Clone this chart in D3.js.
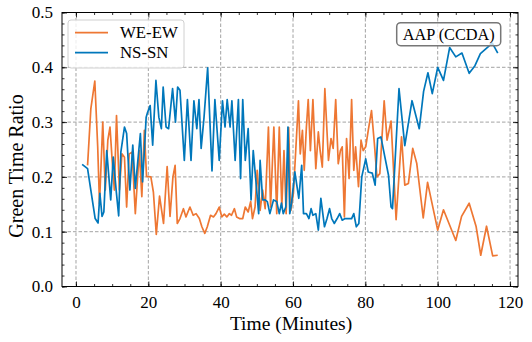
<!DOCTYPE html>
<html><head><meta charset="utf-8">
<script src="https://cdn.jsdelivr.net/npm/d3@7"></script>
<style>body{margin:0;background:#fff}svg{display:block}</style>
</head><body>
<svg id="c" width="532" height="342"></svg>
<script>
// ---- data ----
const weTime = [3.2,4.1,5.2,6.0,6.5,7.4,8.1,8.8,9.4,10.0,10.6,11.2,12.0,12.7,13.4,14.0,14.7,15.5,16.4,17.5,18.2,18.9,19.5,20.7,21.4,22.2,23.1,24.2,25.2,26.0,26.8,27.4,28.0,28.75,29.7,30.4,31.5,32.4,33.2,34.1,34.8,35.6,36.3,37.2,38.0,38.7,39.6,40.3,41.0,41.7,42.4,43.0,43.8,44.4,45.2,46.1,46.8,47.6,48.3,48.8,49.5,50.1,50.9,51.6,52.3,53.2,53.8,54.7,55.5,56.2,56.9,57.5,58.1,58.8,59.4,60.1,60.7,61.5,62.0,62.6,63.1,63.7,64.2,64.8,65.5,66.3,67.0,67.5,68.1,68.8,69.8,70.5,71.1,71.8,72.5,73.1,73.6,74.2,74.8,75.5,76.2,76.8,77.3,78.1,78.8,79.4,80.1,80.8,81.7,82.5,83.2,84.0,85.2,86.0,87.1,88.5,90.0,90.9,91.9,93.1,94.2,96.0,97.2,100.0,101.6,105.0,106.6,108.7,110.6,111.9,113.5,115.2,116.6];
const weValue = [0.221,0.324,0.375,0.255,0.151,0.300,0.176,0.267,0.291,0.230,0.176,0.312,0.176,0.242,0.236,0.145,0.242,0.245,0.133,0.248,0.164,0.285,0.201,0.200,0.172,0.095,0.165,0.115,0.219,0.128,0.200,0.221,0.115,0.124,0.142,0.127,0.145,0.130,0.133,0.124,0.109,0.097,0.109,0.130,0.127,0.133,0.145,0.127,0.132,0.127,0.133,0.130,0.142,0.127,0.124,0.124,0.145,0.136,0.155,0.124,0.145,0.212,0.139,0.176,0.142,0.291,0.145,0.291,0.133,0.291,0.145,0.248,0.133,0.290,0.139,0.170,0.242,0.339,0.242,0.285,0.212,0.291,0.341,0.248,0.341,0.215,0.282,0.248,0.218,0.361,0.230,0.270,0.252,0.341,0.224,0.248,0.255,0.127,0.270,0.197,0.341,0.212,0.255,0.182,0.267,0.248,0.255,0.285,0.321,0.260,0.200,0.206,0.339,0.267,0.302,0.122,0.273,0.185,0.188,0.252,0.225,0.125,0.190,0.103,0.140,0.084,0.128,0.152,0.110,0.057,0.110,0.056,0.057];
const nsTime = [1.7,3.2,4.1,5.3,6.1,6.6,7.2,7.7,8.5,9.6,10.3,11.1,11.8,12.4,13.4,14.0,14.9,15.7,16.4,17.1,17.8,18.4,18.9,19.4,19.8,20.5,21.2,22.1,22.9,23.6,24.1,24.9,25.6,26.7,27.5,28.1,28.75,29.95,30.8,31.8,32.6,33.4,34.0,34.6,35.4,36.4,37.6,38.4,39.6,40.5,41.2,41.8,42.6,43.1,44.0,44.9,45.5,46.1,46.8,47.6,48.4,49.0,49.8,50.5,50.9,51.6,52.3,52.9,53.6,54.6,55.5,56.2,56.8,57.3,58.0,58.6,59.1,59.6,60.5,61.6,62.4,62.9,63.7,64.4,65.0,65.5,66.3,67.0,67.7,68.7,69.4,70.1,70.7,71.4,72.2,72.9,73.6,74.4,75.5,76.2,76.8,77.5,78.2,79.0,80.1,80.8,81.9,82.7,83.4,84.3,85.4,86.4,87.1,87.5,89.3,90.9,92.9,94.9,96.1,97.3,98.5,100.0,101.6,103.3,105.0,106.7,108.7,110.3,111.8,115.1,116.6];
const nsValue = [0.223,0.215,0.176,0.124,0.116,0.170,0.128,0.136,0.248,0.158,0.236,0.176,0.129,0.245,0.291,0.279,0.176,0.258,0.179,0.230,0.279,0.191,0.248,0.309,0.318,0.330,0.258,0.376,0.309,0.288,0.364,0.291,0.288,0.361,0.300,0.364,0.358,0.230,0.341,0.230,0.339,0.288,0.341,0.252,0.309,0.399,0.211,0.341,0.230,0.339,0.291,0.341,0.291,0.339,0.230,0.341,0.197,0.341,0.230,0.288,0.158,0.248,0.188,0.133,0.230,0.158,0.158,0.155,0.133,0.158,0.155,0.133,0.152,0.133,0.145,0.291,0.133,0.152,0.209,0.161,0.221,0.133,0.133,0.124,0.142,0.130,0.133,0.103,0.161,0.109,0.124,0.142,0.124,0.115,0.124,0.133,0.121,0.124,0.124,0.124,0.133,0.109,0.115,0.200,0.233,0.209,0.207,0.185,0.270,0.273,0.236,0.203,0.145,0.142,0.361,0.257,0.339,0.288,0.356,0.390,0.352,0.400,0.376,0.436,0.419,0.426,0.389,0.403,0.425,0.444,0.426];
const seriesNames = ["WE-EW","NS-SN"];
const seriesColors = ["#EE7733","#0077BB"];
const xTicks = [0,20,40,60,80,100,120];
const yTicks = [0.0,0.1,0.2,0.3,0.4,0.5];
const xLabel = "Time (Minutes)";
const yLabel = "Green Time Ratio";
const annotation = "AAP (CCDA)";

// ---- layout ----
const svg = d3.select("#c");
const L=62, R=518, T=12.5, B=286.5;
const x = d3.scaleLinear().domain([-3.87,122.2]).range([L,R]);
const y = d3.scaleLinear().domain([0,0.5]).range([B,T]);
const font = "'Liberation Serif', 'Times New Roman', serif";

// grid
const grid = svg.append("g");
grid.selectAll(".gx").data(xTicks).join("line")
  .attr("x1",d=>x(d)).attr("x2",d=>x(d)).attr("y1",T).attr("y2",B)
  .attr("stroke","#8c8c8c").attr("stroke-width",0.8).attr("stroke-dasharray","3.5,2");
grid.selectAll(".gy").data(yTicks).join("line")
  .attr("y1",d=>y(d)).attr("y2",d=>y(d)).attr("x1",L).attr("x2",R)
  .attr("stroke","#8c8c8c").attr("stroke-width",0.8).attr("stroke-dasharray","3.5,2");

// lines
svg.append("clipPath").attr("id","pc").append("rect").attr("x",L).attr("y",T).attr("width",R-L).attr("height",B-T);
const lineGen = d3.line().x(d=>x(d[0])).y(d=>y(d[1]));
const seriesData = [d3.zip(weTime,weValue), d3.zip(nsTime,nsValue)];
seriesData.forEach((s,i)=>{
  svg.append("path").datum(s).attr("d",lineGen).attr("fill","none")
    .attr("stroke",seriesColors[i]).attr("stroke-width",1.7).attr("stroke-linejoin","round")
    .attr("clip-path","url(#pc)");
});

// axes with inward ticks
function axisSet(axisGen, transform){
  return svg.append("g").attr("transform",transform).call(axisGen);
}
const xMinor = d3.range(0,125,5);
const yMinor = d3.range(0,0.501,0.02);
axisSet(d3.axisBottom(x).tickValues(xTicks).tickFormat(d3.format("d")).tickSizeInner(-5).tickSizeOuter(0).tickPadding(9), `translate(0,${B})`);
axisSet(d3.axisBottom(x).tickValues(xMinor).tickFormat("").tickSizeInner(-2.5).tickSizeOuter(0), `translate(0,${B})`);
axisSet(d3.axisTop(x).tickValues(xTicks).tickFormat("").tickSizeInner(-5).tickSizeOuter(0), `translate(0,${T})`);
axisSet(d3.axisTop(x).tickValues(xMinor).tickFormat("").tickSizeInner(-2.5).tickSizeOuter(0), `translate(0,${T})`);
axisSet(d3.axisLeft(y).tickValues(yTicks).tickFormat(d3.format(".1f")).tickSizeInner(-5).tickSizeOuter(0).tickPadding(9), `translate(${L},0)`);
axisSet(d3.axisLeft(y).tickValues(yMinor).tickFormat("").tickSizeInner(-2.5).tickSizeOuter(0), `translate(${L},0)`);
axisSet(d3.axisRight(y).tickValues(yTicks).tickFormat("").tickSizeInner(-5).tickSizeOuter(0), `translate(${R},0)`);
axisSet(d3.axisRight(y).tickValues(yMinor).tickFormat("").tickSizeInner(-2.5).tickSizeOuter(0), `translate(${R},0)`);
svg.selectAll(".domain").remove();
svg.selectAll(".tick line").attr("stroke","#000").attr("stroke-width",0.8);
svg.selectAll(".tick text").attr("font-family",font).attr("font-size",17).attr("fill","#000");
// frame
svg.append("rect").attr("x",L).attr("y",T).attr("width",R-L).attr("height",B-T)
  .attr("fill","none").attr("stroke","#000").attr("stroke-width",1);

// axis labels
svg.append("text").attr("x",(L+R)/2 + 1).attr("y",330).attr("text-anchor","middle")
  .attr("font-family",font).attr("font-size",19.5).text(xLabel);
svg.append("text").attr("transform",`translate(23,166) rotate(-90)`).attr("text-anchor","middle")
  .attr("font-family",font).attr("font-size",20).text(yLabel);

// legend
const lg = svg.append("g");
lg.append("rect").attr("x",68).attr("y",20).attr("width",116).attr("height",48).attr("rx",3)
  .attr("fill","#fff").attr("fill-opacity",0.8).attr("stroke","#d0d0d0").attr("stroke-width",1);
seriesNames.forEach((n,i)=>{
  const yy = 32.7 + i*20;
  lg.append("line").attr("x1",75).attr("x2",108).attr("y1",yy).attr("y2",yy)
    .attr("stroke",seriesColors[i]).attr("stroke-width",1.7);
  lg.append("text").attr("x",120).attr("y",yy+5.5).attr("font-family",font).attr("font-size",16.8).text(n);
});

// annotation box
const ab = svg.append("g");
ab.append("rect").attr("x",396.7).attr("y",22.7).attr("width",104).attr("height",23).attr("rx",4)
  .attr("fill","#fff").attr("fill-opacity",0.75).attr("stroke","#777").attr("stroke-width",1.5);
ab.append("text").attr("x",448.7).attr("y",39.5).attr("text-anchor","middle")
  .attr("font-family",font).attr("font-size",16.3).text(annotation);
</script>
</body></html>
